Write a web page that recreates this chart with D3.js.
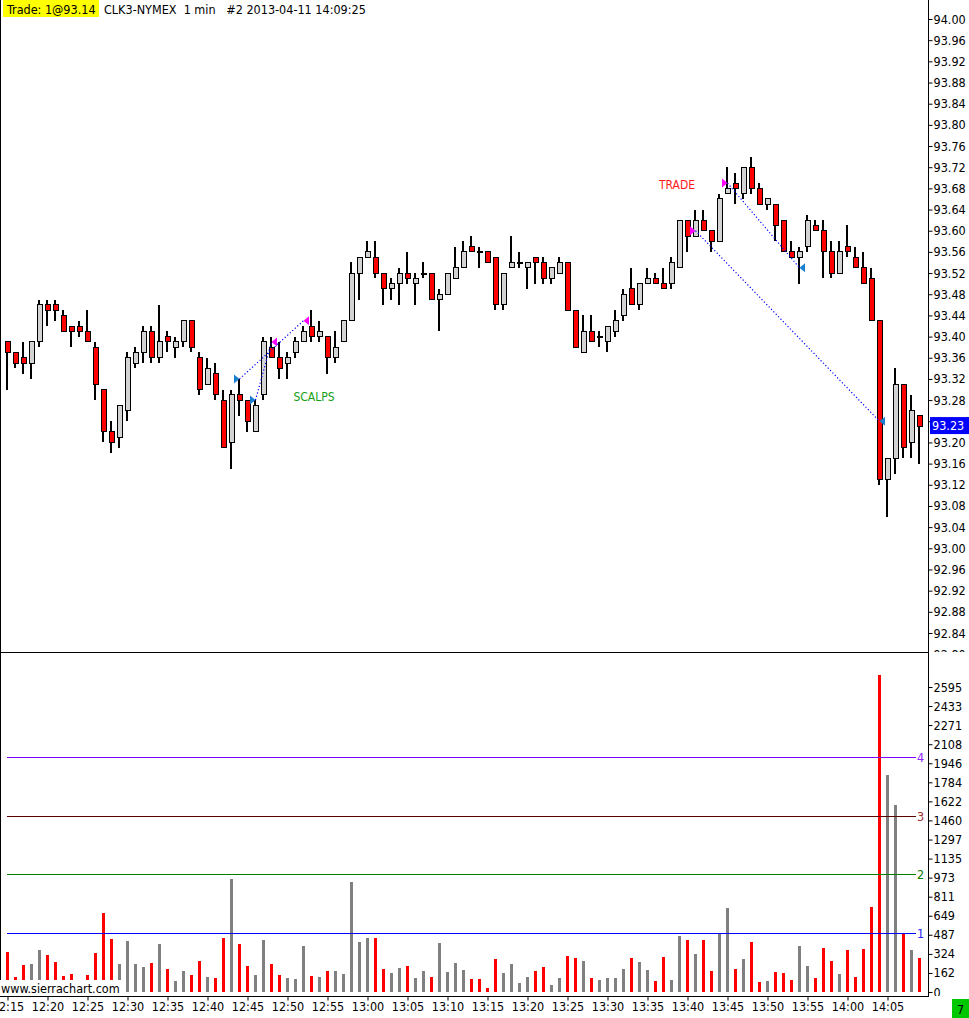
<!DOCTYPE html>
<html>
<head>
<meta charset="utf-8">
<script src="https://cdn.jsdelivr.net/npm/d3@7/dist/d3.min.js"></script>
<style>
  html, body { margin: 0; padding: 0; background: #fff; }
  svg { display: block; }
  text { font-family: "DejaVu Sans Condensed", "Liberation Sans", sans-serif; }
</style>
</head>
<body>
<svg id="chart" width="969" height="1018"></svg>
<script>
// ---------------- DATA ----------------
const startTime = "12:15";            // first 1-minute bar
const opens  = [93.39,93.37,93.36,93.35,93.39,93.46,93.46,93.44,93.42,93.42,93.41,93.38,93.30,93.22,93.21,93.26,93.35,93.37,93.41,93.36,
                93.40,93.38,93.39,93.43,93.36,93.31,93.33,93.28,93.20,93.29,93.28,93.22,93.29,93.38,93.36,93.35,93.37,93.39,93.42,93.40,
                93.40,93.36,93.39,93.43,93.52,93.55,93.55,93.52,93.49,93.50,93.52,93.50,93.52,93.52,93.47,93.48,93.51,93.53,93.57,93.56,
                93.56,93.55,93.46,93.53,93.54,93.53,93.55,93.54,93.51,93.52,93.54,93.45,93.37,93.41,93.40,93.39,93.41,93.44,93.49,93.46,
                93.50,93.51,93.50,93.50,93.53,93.62,93.59,93.62,93.60,93.58,93.67,93.69,93.67,93.72,93.68,93.65,93.65,93.62,93.56,93.55,
                93.57,93.61,93.60,93.56,93.52,93.57,93.55,93.53,93.51,93.43,93.13,93.17,93.31,93.20,93.25];
const highs  = [93.39,93.37,93.39,93.39,93.47,93.47,93.47,93.45,93.42,93.43,93.45,93.39,93.30,93.24,93.27,93.37,93.38,93.42,93.42,93.46,
                93.41,93.40,93.43,93.43,93.37,93.36,93.35,93.30,93.30,93.32,93.28,93.28,93.40,93.40,93.39,93.37,93.40,93.42,93.45,93.43,
                93.40,93.41,93.43,93.54,93.55,93.58,93.58,93.52,93.51,93.53,93.56,93.52,93.54,93.52,93.49,93.52,93.57,93.58,93.59,93.57,
                93.56,93.55,93.52,93.59,93.56,93.54,93.55,93.55,93.53,93.55,93.54,93.45,93.44,93.44,93.41,93.42,93.45,93.49,93.53,93.50,
                93.53,93.52,93.53,93.55,93.62,93.62,93.64,93.64,93.60,93.67,93.72,93.71,93.72,93.74,93.69,93.66,93.65,93.62,93.58,93.57,
                93.63,93.62,93.62,93.58,93.58,93.61,93.57,93.56,93.53,93.43,93.17,93.34,93.31,93.29,93.25];
const lows   = [93.30,93.34,93.33,93.32,93.38,93.42,93.43,93.41,93.38,93.40,93.39,93.28,93.20,93.18,93.19,93.24,93.34,93.35,93.35,93.35,
                93.37,93.36,93.38,93.37,93.29,93.31,93.28,93.19,93.15,93.25,93.22,93.22,93.28,93.36,93.32,93.32,93.36,93.39,93.39,93.39,
                93.33,93.35,93.39,93.43,93.47,93.55,93.51,93.46,93.47,93.46,93.50,93.46,93.51,93.47,93.41,93.48,93.51,93.53,93.56,93.53,
                93.54,93.45,93.45,93.53,93.53,93.49,93.50,93.50,93.50,93.52,93.45,93.38,93.37,93.39,93.38,93.37,93.40,93.43,93.46,93.45,
                93.50,93.50,93.49,93.49,93.53,93.56,93.59,93.60,93.56,93.58,93.67,93.65,93.66,93.67,93.65,93.64,93.58,93.56,93.55,93.50,
                93.56,93.60,93.51,93.51,93.52,93.55,93.53,93.50,93.43,93.12,93.06,93.14,93.17,93.17,93.16];
const closes = [93.37,93.35,93.35,93.39,93.46,93.45,93.45,93.41,93.41,93.41,93.39,93.31,93.22,93.20,93.27,93.36,93.37,93.41,93.36,93.39,
                93.39,93.39,93.43,93.38,93.30,93.34,93.29,93.19,93.29,93.28,93.24,93.27,93.39,93.36,93.34,93.36,93.39,93.41,93.40,93.41,
                93.36,93.38,93.43,93.52,93.55,93.56,93.52,93.49,93.50,93.52,93.51,93.51,93.52,93.47,93.48,93.52,93.53,93.56,93.56,93.56,
                93.54,93.46,93.52,93.54,93.54,93.54,93.54,93.51,93.53,93.54,93.45,93.38,93.41,93.39,93.40,93.42,93.43,93.48,93.46,93.50,
                93.51,93.50,93.49,93.54,93.62,93.59,93.62,93.60,93.58,93.66,93.68,93.68,93.72,93.68,93.65,93.66,93.61,93.56,93.55,93.56,
                93.62,93.60,93.56,93.52,93.56,93.56,93.53,93.50,93.43,93.13,93.17,93.31,93.19,93.26,93.23];
const volumes = [343,130,230,238,357,315,255,136,153,60,145,332,675,451,238,434,238,213,247,408,
                 196,94,179,145,264,128,119,459,961,408,221,145,442,238,145,119,111,391,136,128,
                 179,179,153,936,425,459,459,196,162,204,221,119,179,128,417,170,247,190,111,111,
                 34,281,162,238,77,128,179,213,60,119,306,289,264,119,102,119,119,196,289,255,
                 187,94,298,102,476,442,323,442,179,502,715,196,281,425,85,94,170,162,102,391,
                 221,119,374,264,153,357,128,366,726,2697,1846,1594,496,357,292];

// trades: entry/exit bar index and fill price
const tradeEntryIdx   = [29, 31, 86, 90];
const tradeEntryPrice = [93.32, 93.28, 93.60, 93.69];
const tradeExitIdx    = [37, 33, 109, 99];
const tradeExitPrice  = [93.43, 93.39, 93.24, 93.53];
const tradeSide       = ["buy", "buy", "sell", "sell"];

const priceTickLabels = ["94.00","93.96","93.92","93.88","93.84","93.80","93.76","93.72","93.68","93.64","93.60","93.56",
                         "93.52","93.48","93.44","93.40","93.36","93.32","93.28","93.24","93.20","93.16","93.12","93.08",
                         "93.04","93.00","92.96","92.92","92.88","92.84","92.80"];
const volTickLabels = ["2595","2433","2271","2108","1946","1784","1622","1460","1297","1135","973","811","649","487","324","162","0"];
const timeTickLabels = ["12:15","12:20","12:25","12:30","12:35","12:40","12:45","12:50","12:55","13:00","13:05","13:10",
                        "13:15","13:20","13:25","13:30","13:35","13:40","13:45","13:50","13:55","14:00","14:05"];
const volLevels = [500, 1000, 1500, 2000];
const volLevelLabels = ["1", "2", "3", "4"];
const headerTrade = "Trade: 1@93.14";
const headerInfo = "CLK3-NYMEX  1 min   #2 2013-04-11 14:09:25";
const lastPriceLabel = "93.23";

// ---------------- LAYOUT ----------------
const W = 969, H = 1018;
const axisX = 928;
const priceTop = 0, priceBottom = 652;
const volBottom = 996;
const levelColors = ["#0000ff", "#008000", "#5a0000", "#8000ff"];
const levelTextColors = ["#2020ff", "#008000", "#a03030", "#9020ff"];
const FONT = '"DejaVu Sans Condensed", "Liberation Sans", sans-serif';

const svg = d3.select("#chart");
const n = closes.length;
const bars = d3.range(n).map(i => ({ i, o: opens[i], h: highs[i], l: lows[i], c: closes[i], v: volumes[i] }));
// direction: close vs open, ties resolved by previous close / previous direction
bars.forEach((b, i) => {
  if (b.c < b.o) b.down = true;
  else if (b.c > b.o) b.down = false;
  else if (i > 0 && b.c < bars[i-1].c) b.down = true;
  else if (i > 0 && b.c > bars[i-1].c) b.down = false;
  else b.down = i > 0 ? bars[i-1].down : false;
});

function minuteLabel(i) {
  const [hh, mm] = startTime.split(":").map(Number);
  const t = hh * 60 + mm + i;
  return Math.floor(t / 60) + ":" + String(t % 60).padStart(2, "0");
}

const x = d3.scaleLinear().domain([0, n - 1]).range([7.5, 7.5 + 8 * (n - 1)]);
const y = d3.scaleLinear().domain([92.84, 94.00]).range([633, 19]);
const yv = d3.scaleLinear().domain([0, 2595]).range([992, 687]);

// clip paths
const defs = svg.append("defs");
defs.append("clipPath").attr("id", "clipPrice").append("rect").attr("x", 0).attr("y", 0).attr("width", W).attr("height", priceBottom);
defs.append("clipPath").attr("id", "clipVol").append("rect").attr("x", 0).attr("y", priceBottom + 1).attr("width", W).attr("height", volBottom - priceBottom - 1);

// ---------------- VOLUME PANE ----------------
const gVol = svg.append("g").attr("clip-path", "url(#clipVol)");
gVol.selectAll("rect.vbar").data(bars).join("rect")
  .attr("class", "vbar")
  .attr("x", d => x(d.i) - 1.5)
  .attr("width", 3)
  .attr("y", d => yv(d.v))
  .attr("height", d => yv(0) - yv(d.v))
  .attr("fill", d => d.down ? "#ff0000" : "#808080")
  .attr("shape-rendering", "crispEdges");

volLevels.forEach((lv, k) => {
  const ly = Math.round(yv(lv));
  gVol.append("rect")
    .attr("x", 7).attr("width", 909)
    .attr("y", ly).attr("height", 1)
    .attr("fill", levelColors[k])
    .attr("shape-rendering", "crispEdges");
  gVol.append("text")
    .attr("x", 917).attr("y", ly + 0.5)
    .attr("dy", "0.36em")
    .attr("font-size", 12.5)
    .attr("fill", levelTextColors[k])
    .text(volLevelLabels[k]);
});

// volume axis
const volAxis = d3.axisRight(yv)
  .tickValues(volTickLabels.map(Number))
  .tickFormat((d, k) => volTickLabels[k])
  .tickSize(4).tickPadding(1);
const gVA = svg.append("g").attr("transform", `translate(${axisX + 0.5},0)`).attr("clip-path", "url(#clipVol)").call(volAxis);
gVA.select(".domain").remove();
gVA.selectAll("text").attr("font-size", 12.5).attr("fill", "#000").attr("font-family", FONT);
gVA.selectAll("line").attr("stroke", "#000");

// ---------------- PRICE PANE ----------------
const gP = svg.append("g").attr("clip-path", "url(#clipPrice)");
// wicks
gP.selectAll("rect.wick").data(bars).join("rect")
  .attr("class", "wick")
  .attr("x", d => x(d.i) - 1.5)
  .attr("width", 2)
  .attr("y", d => y(d.h))
  .attr("height", d => Math.max(1, y(d.l) - y(d.h)))
  .attr("fill", "#000")
  .attr("shape-rendering", "crispEdges");
// bodies
gP.selectAll("rect.body").data(bars).join("rect")
  .attr("class", "body")
  .attr("x", d => x(d.i) - 2.5)
  .attr("width", 5)
  .attr("y", d => y(Math.max(d.o, d.c)))
  .attr("height", d => Math.max(1, Math.abs(y(d.o) - y(d.c))))
  .attr("fill", d => d.c < d.o ? "#ff0000" : (d.c > d.o ? "#d3d3d3" : "#000"))
  .attr("stroke", "#000").attr("stroke-width", 1)
  .attr("shape-rendering", "crispEdges");

// trade connection lines
tradeEntryIdx.forEach((ei, k) => {
  gP.append("line")
    .attr("x1", x(ei)).attr("y1", y(tradeEntryPrice[k]))
    .attr("x2", x(tradeExitIdx[k])).attr("y2", y(tradeExitPrice[k]))
    .attr("stroke", "#0000ff").attr("stroke-width", 1.2)
    .attr("stroke-dasharray", "1.2,2.2");
});
// trade markers
function marker(idx, price, color, pointRight) {
  const cx = x(idx), cy = y(price);
  const pts = pointRight
    ? [[cx - 5.5, cy - 4.5], [cx, cy], [cx - 5.5, cy + 4.5]]
    : [[cx + 5.5, cy - 4.5], [cx, cy], [cx + 5.5, cy + 4.5]];
  gP.append("path").attr("d", d3.line()(pts) + "Z").attr("fill", color);
}
const buyColor = "#1a7fcf", sellColor = "#ff00ff";
tradeEntryIdx.forEach((ei, k) => {
  const buy = tradeSide[k] === "buy";
  marker(ei, tradeEntryPrice[k], buy ? buyColor : sellColor, true);
  marker(tradeExitIdx[k], tradeExitPrice[k], buy ? sellColor : buyColor, false);
});

// annotations
gP.append("text").attr("x", 314).attr("y", 401).attr("text-anchor", "middle")
  .attr("font-size", 12).attr("fill", "#15a015").text("SCALPS");
gP.append("text").attr("x", 677).attr("y", 189).attr("text-anchor", "middle")
  .attr("font-size", 12).attr("fill", "#ff1a1a").text("TRADE");

// price axis (labels hidden behind the last-price box are not drawn)
const lastY = y(closes[n - 1]);
const priceAxis = d3.axisRight(y)
  .tickValues(priceTickLabels.map(Number))
  .tickFormat((d, k) => Math.abs(y(d) - lastY) < 12 ? "" : priceTickLabels[k])
  .tickSize(4).tickPadding(1);
const gPA = svg.append("g").attr("transform", `translate(${axisX + 0.5},0)`).attr("clip-path", "url(#clipPrice)").call(priceAxis);
gPA.select(".domain").remove();
gPA.selectAll("text").attr("font-size", 12.5).attr("fill", "#000").attr("font-family", FONT);
gPA.selectAll("line").attr("stroke", "#000");

// last price box
svg.append("rect").attr("x", 930).attr("y", lastY - 9.5).attr("width", 39).attr("height", 17).attr("fill", "#0000ff");
svg.append("text").attr("x", 932).attr("y", lastY - 1).attr("dy", "0.36em")
  .attr("font-size", 12.5).attr("fill", "#fff").text(lastPriceLabel);

// ---------------- TIME AXIS ----------------
const timeAxis = d3.axisBottom(x)
  .tickValues(timeTickLabels.map(t => d3.range(n).find(i => minuteLabel(i) === t)))
  .tickFormat(i => minuteLabel(i))
  .tickSize(4).tickPadding(2);
const gTA = svg.append("g").attr("transform", `translate(0,${volBottom + 0.5})`).call(timeAxis);
gTA.select(".domain").remove();
gTA.selectAll("text").attr("font-size", 12.5).attr("fill", "#000").attr("font-family", FONT);
gTA.selectAll("line").attr("stroke", "#000");

// ---------------- FRAME ----------------
const frame = svg.append("g").attr("stroke", "#000").attr("stroke-width", 1).attr("shape-rendering", "crispEdges");
frame.append("line").attr("x1", 0.5).attr("x2", 0.5).attr("y1", 0).attr("y2", volBottom);
frame.append("line").attr("x1", axisX + 0.5).attr("x2", axisX + 0.5).attr("y1", 0).attr("y2", volBottom + 1);
frame.append("line").attr("x1", 0).attr("x2", axisX + 1).attr("y1", priceBottom + 0.5).attr("y2", priceBottom + 0.5);
frame.append("line").attr("x1", 0).attr("x2", axisX + 1).attr("y1", volBottom + 0.5).attr("y2", volBottom + 0.5);

// watermark box
svg.append("rect").attr("x", 0).attr("y", 980).attr("width", 121).attr("height", 16).attr("fill", "#fff");
svg.append("text").attr("x", 1).attr("y", 993).attr("font-size", 12.5).attr("fill", "#000").text("www.sierrachart.com");

// header
svg.append("rect").attr("x", 3).attr("y", 0).attr("width", 96).attr("height", 17).attr("fill", "#ffff00");
svg.append("text").attr("x", 7).attr("y", 13.5).attr("font-size", 12.5).attr("fill", "#000").text(headerTrade);
svg.append("text").attr("x", 104).attr("y", 13.5).attr("font-size", 12.5).attr("fill", "#000")
  .attr("xml:space", "preserve").style("white-space", "pre").text(headerInfo);

// bottom-right indicator box
svg.append("rect").attr("x", 952).attr("y", 999).attr("width", 17).attr("height", 19).attr("fill", "#00c800");
svg.append("text").attr("x", 960.5).attr("y", 1013.5).attr("text-anchor", "middle").attr("font-size", 12.5).attr("fill", "#000").text("7");
</script>
</body>
</html>
